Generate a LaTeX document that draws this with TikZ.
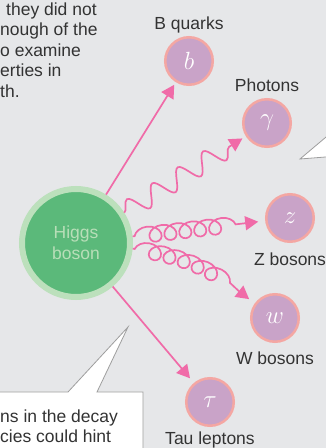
\documentclass[tikz,border=0pt]{standalone}
\usepackage{fontspec}
\setmainfont{Liberation Sans}
\usepackage{xcolor}
\usetikzlibrary{arrows.meta, positioning, decorations.pathmorphing}

\definecolor{bgc}{HTML}{E6E7E9}
\definecolor{pinkc}{HTML}{F06BA8}
\definecolor{lavc}{HTML}{C9A3C8}
\definecolor{ringc}{HTML}{F4A7A3}
\definecolor{higgsc}{HTML}{5BB97A}
\definecolor{higgsring}{HTML}{BCE0BC}
\definecolor{higgstxt}{HTML}{B8DEB8}
\definecolor{txtc}{HTML}{333333}
\definecolor{notec}{HTML}{9E9E9E}

\begin{document}
\begin{tikzpicture}[x=1pt, y=1pt,
  part/.style={circle, draw=ringc, line width=2.5pt, fill=lavc, minimum size=47.5pt,
               inner sep=0pt, text=white, font=\fontsize{26}{28}\selectfont},
  higgs/.style={circle, draw=higgsring, line width=6pt, fill=higgsc, minimum size=108pt,
                align=center, text=higgstxt, font=\fontsize{17.5}{21}\selectfont},
  lbl/.style={font=\fontsize{17.5}{20.5}\selectfont, text=txtc, inner sep=0pt},
  callout/.style={draw=notec, fill=white, line width=0.8pt},
  arr/.style={draw=pinkc, line width=1.7pt, -{Triangle[length=13pt, width=14pt]}, shorten >=4pt},
  wave/.style={decorate, decoration={snake, amplitude=10pt, segment length=30pt, post length=18pt}},
  curl/.style={decorate, decoration={coil, amplitude=8pt, segment length=15pt, aspect=1.2,
               pre length=2pt, post length=20pt}}
]
  \clip (0,0) rectangle (326,448);
  \fill[bgc] (0,0) rectangle (326,448);

  % Notes at the edges
  \node[lbl, anchor=north west, align=left] (note) at (0,445.5)
    {\hspace*{6pt}they did not\\nough of the\\o examine\\erties in\\th.};
  \draw[callout] (-10,56) -- (68,56) -- (128,121) -- (97,56) -- (143,56) -- (143,-10)
    -- (-10,-10) -- cycle;
  \node[lbl, anchor=north west, align=left] (hint) at (0,38.7) {ns in the decay\\cies could hint};
  \draw[callout] (300,289) -- (332,316) -- (332,350) -- (360,350) -- (360,270) -- (332,270)
    -- (332,291.5) -- cycle;

  % Higgs
  \node[higgs] (higgs) at (76,205) {Higgs\\boson};

  % Decay products
  \node[part] (b) at (189,387) {$b$};
  \node[part] (gam) at (267,325) {$\gamma$};
  \node[part] (z) at (290,230) {$z$};
  \node[part] (w) at (275,130) {$w$};
  \node[part] (tau) at (210,46) {$\tau$};

  \node[lbl, above=3pt of b] (blbl) {B quarks};
  \node[lbl, above=6pt of gam] (gamlbl) {Photons};
  \node[lbl, below=10pt of z] (zlbl) {Z bosons};
  \node[lbl, below=9pt of w] (wlbl) {W bosons};
  \node[lbl, below=5pt of tau] (taulbl) {Tau leptons};

  % Decays
  \draw[arr, shorten >=3pt] (higgs) -- (b);
  \draw[arr, shorten >=6pt] (higgs) -- (tau);
  \draw[arr, wave] (higgs) -- (gam);
  \draw[arr, curl, shorten >=7pt] (higgs) -- (z);
  \draw[arr, curl, shorten >=7pt] (higgs) to[bend left=15] (w);
\end{tikzpicture}
\end{document}
